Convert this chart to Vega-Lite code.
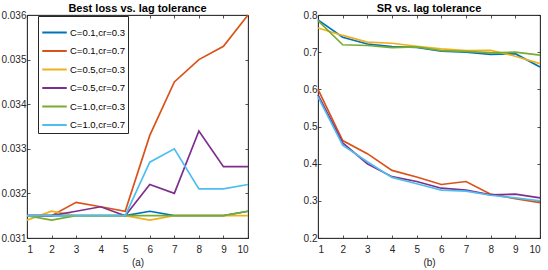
{
  "$schema": "https://vega.github.io/schema/vega-lite/v6.json",
  "padding": {"left": 0, "top": 2, "right": 2, "bottom": 2},
  "background": "white",
  "bounds": "flush",
  "spacing": 70,
  "config": {
    "font": "Liberation Sans",
    "view": {"stroke": "#262626", "strokeWidth": 0.8},
    "axis": {"grid": false, "domainColor": "#262626", "tickColor": "#262626", "labelColor": "#262626", "titleColor": "#262626", "labelFontSize": 10, "titleFontSize": 10, "titleFontWeight": "normal", "tickSize": -3, "labelPadding": 4, "domainWidth": 0.8, "tickWidth": 0.8},
    "axisX": {"labelPadding": 9},
    "title": {"fontSize": 11, "fontWeight": "bold", "color": "#000000", "offset": -4}
  },
  "data": {"values": [
    {"m":"loss","s":"C=0.1,cr=0.3","lag":1,"v":0.0315},{"m":"loss","s":"C=0.1,cr=0.3","lag":2,"v":0.0315},{"m":"loss","s":"C=0.1,cr=0.3","lag":3,"v":0.0315},{"m":"loss","s":"C=0.1,cr=0.3","lag":4,"v":0.0315},{"m":"loss","s":"C=0.1,cr=0.3","lag":5,"v":0.0315},{"m":"loss","s":"C=0.1,cr=0.3","lag":6,"v":0.0316},{"m":"loss","s":"C=0.1,cr=0.3","lag":7,"v":0.0315},{"m":"loss","s":"C=0.1,cr=0.3","lag":8,"v":0.0315},{"m":"loss","s":"C=0.1,cr=0.3","lag":9,"v":0.0315},{"m":"loss","s":"C=0.1,cr=0.3","lag":10,"v":0.0316},
    {"m":"loss","s":"C=0.1,cr=0.7","lag":1,"v":0.0315},{"m":"loss","s":"C=0.1,cr=0.7","lag":2,"v":0.0315},{"m":"loss","s":"C=0.1,cr=0.7","lag":3,"v":0.0318},{"m":"loss","s":"C=0.1,cr=0.7","lag":4,"v":0.0317},{"m":"loss","s":"C=0.1,cr=0.7","lag":5,"v":0.0316},{"m":"loss","s":"C=0.1,cr=0.7","lag":6,"v":0.0333},{"m":"loss","s":"C=0.1,cr=0.7","lag":7,"v":0.0345},{"m":"loss","s":"C=0.1,cr=0.7","lag":8,"v":0.0350},{"m":"loss","s":"C=0.1,cr=0.7","lag":9,"v":0.0353},{"m":"loss","s":"C=0.1,cr=0.7","lag":10,"v":0.0360},
    {"m":"loss","s":"C=0.5,cr=0.3","lag":1,"v":0.0314},{"m":"loss","s":"C=0.5,cr=0.3","lag":2,"v":0.0316},{"m":"loss","s":"C=0.5,cr=0.3","lag":3,"v":0.0315},{"m":"loss","s":"C=0.5,cr=0.3","lag":4,"v":0.0315},{"m":"loss","s":"C=0.5,cr=0.3","lag":5,"v":0.0315},{"m":"loss","s":"C=0.5,cr=0.3","lag":6,"v":0.0314},{"m":"loss","s":"C=0.5,cr=0.3","lag":7,"v":0.0315},{"m":"loss","s":"C=0.5,cr=0.3","lag":8,"v":0.0315},{"m":"loss","s":"C=0.5,cr=0.3","lag":9,"v":0.0315},{"m":"loss","s":"C=0.5,cr=0.3","lag":10,"v":0.0315},
    {"m":"loss","s":"C=0.5,cr=0.7","lag":1,"v":0.0315},{"m":"loss","s":"C=0.5,cr=0.7","lag":2,"v":0.0315},{"m":"loss","s":"C=0.5,cr=0.7","lag":3,"v":0.0316},{"m":"loss","s":"C=0.5,cr=0.7","lag":4,"v":0.0317},{"m":"loss","s":"C=0.5,cr=0.7","lag":5,"v":0.0315},{"m":"loss","s":"C=0.5,cr=0.7","lag":6,"v":0.0322},{"m":"loss","s":"C=0.5,cr=0.7","lag":7,"v":0.0320},{"m":"loss","s":"C=0.5,cr=0.7","lag":8,"v":0.0334},{"m":"loss","s":"C=0.5,cr=0.7","lag":9,"v":0.0326},{"m":"loss","s":"C=0.5,cr=0.7","lag":10,"v":0.0326},
    {"m":"loss","s":"C=1.0,cr=0.3","lag":1,"v":0.0315},{"m":"loss","s":"C=1.0,cr=0.3","lag":2,"v":0.0314},{"m":"loss","s":"C=1.0,cr=0.3","lag":3,"v":0.0315},{"m":"loss","s":"C=1.0,cr=0.3","lag":4,"v":0.0315},{"m":"loss","s":"C=1.0,cr=0.3","lag":5,"v":0.0315},{"m":"loss","s":"C=1.0,cr=0.3","lag":6,"v":0.0315},{"m":"loss","s":"C=1.0,cr=0.3","lag":7,"v":0.0315},{"m":"loss","s":"C=1.0,cr=0.3","lag":8,"v":0.0315},{"m":"loss","s":"C=1.0,cr=0.3","lag":9,"v":0.0315},{"m":"loss","s":"C=1.0,cr=0.3","lag":10,"v":0.0316},
    {"m":"loss","s":"C=1.0,cr=0.7","lag":1,"v":0.0315},{"m":"loss","s":"C=1.0,cr=0.7","lag":2,"v":0.0315},{"m":"loss","s":"C=1.0,cr=0.7","lag":3,"v":0.0315},{"m":"loss","s":"C=1.0,cr=0.7","lag":4,"v":0.0315},{"m":"loss","s":"C=1.0,cr=0.7","lag":5,"v":0.0315},{"m":"loss","s":"C=1.0,cr=0.7","lag":6,"v":0.0327},{"m":"loss","s":"C=1.0,cr=0.7","lag":7,"v":0.0330},{"m":"loss","s":"C=1.0,cr=0.7","lag":8,"v":0.0321},{"m":"loss","s":"C=1.0,cr=0.7","lag":9,"v":0.0321},{"m":"loss","s":"C=1.0,cr=0.7","lag":10,"v":0.0322},
    {"m":"sr","s":"C=0.1,cr=0.3","lag":1,"v":0.787},{"m":"sr","s":"C=0.1,cr=0.3","lag":2,"v":0.740},{"m":"sr","s":"C=0.1,cr=0.3","lag":3,"v":0.722},{"m":"sr","s":"C=0.1,cr=0.3","lag":4,"v":0.715},{"m":"sr","s":"C=0.1,cr=0.3","lag":5,"v":0.713},{"m":"sr","s":"C=0.1,cr=0.3","lag":6,"v":0.703},{"m":"sr","s":"C=0.1,cr=0.3","lag":7,"v":0.700},{"m":"sr","s":"C=0.1,cr=0.3","lag":8,"v":0.694},{"m":"sr","s":"C=0.1,cr=0.3","lag":9,"v":0.696},{"m":"sr","s":"C=0.1,cr=0.3","lag":10,"v":0.660},
    {"m":"sr","s":"C=0.1,cr=0.7","lag":1,"v":0.600},{"m":"sr","s":"C=0.1,cr=0.7","lag":2,"v":0.462},{"m":"sr","s":"C=0.1,cr=0.7","lag":3,"v":0.427},{"m":"sr","s":"C=0.1,cr=0.7","lag":4,"v":0.382},{"m":"sr","s":"C=0.1,cr=0.7","lag":5,"v":0.364},{"m":"sr","s":"C=0.1,cr=0.7","lag":6,"v":0.344},{"m":"sr","s":"C=0.1,cr=0.7","lag":7,"v":0.352},{"m":"sr","s":"C=0.1,cr=0.7","lag":8,"v":0.318},{"m":"sr","s":"C=0.1,cr=0.7","lag":9,"v":0.306},{"m":"sr","s":"C=0.1,cr=0.7","lag":10,"v":0.295},
    {"m":"sr","s":"C=0.5,cr=0.3","lag":1,"v":0.765},{"m":"sr","s":"C=0.5,cr=0.3","lag":2,"v":0.745},{"m":"sr","s":"C=0.5,cr=0.3","lag":3,"v":0.727},{"m":"sr","s":"C=0.5,cr=0.3","lag":4,"v":0.724},{"m":"sr","s":"C=0.5,cr=0.3","lag":5,"v":0.716},{"m":"sr","s":"C=0.5,cr=0.3","lag":6,"v":0.709},{"m":"sr","s":"C=0.5,cr=0.3","lag":7,"v":0.704},{"m":"sr","s":"C=0.5,cr=0.3","lag":8,"v":0.705},{"m":"sr","s":"C=0.5,cr=0.3","lag":9,"v":0.689},{"m":"sr","s":"C=0.5,cr=0.3","lag":10,"v":0.669},
    {"m":"sr","s":"C=0.5,cr=0.7","lag":1,"v":0.585},{"m":"sr","s":"C=0.5,cr=0.7","lag":2,"v":0.456},{"m":"sr","s":"C=0.5,cr=0.7","lag":3,"v":0.400},{"m":"sr","s":"C=0.5,cr=0.7","lag":4,"v":0.365},{"m":"sr","s":"C=0.5,cr=0.7","lag":5,"v":0.352},{"m":"sr","s":"C=0.5,cr=0.7","lag":6,"v":0.334},{"m":"sr","s":"C=0.5,cr=0.7","lag":7,"v":0.329},{"m":"sr","s":"C=0.5,cr=0.7","lag":8,"v":0.316},{"m":"sr","s":"C=0.5,cr=0.7","lag":9,"v":0.318},{"m":"sr","s":"C=0.5,cr=0.7","lag":10,"v":0.308},
    {"m":"sr","s":"C=1.0,cr=0.3","lag":1,"v":0.785},{"m":"sr","s":"C=1.0,cr=0.3","lag":2,"v":0.720},{"m":"sr","s":"C=1.0,cr=0.3","lag":3,"v":0.718},{"m":"sr","s":"C=1.0,cr=0.3","lag":4,"v":0.712},{"m":"sr","s":"C=1.0,cr=0.3","lag":5,"v":0.714},{"m":"sr","s":"C=1.0,cr=0.3","lag":6,"v":0.704},{"m":"sr","s":"C=1.0,cr=0.3","lag":7,"v":0.702},{"m":"sr","s":"C=1.0,cr=0.3","lag":8,"v":0.698},{"m":"sr","s":"C=1.0,cr=0.3","lag":9,"v":0.700},{"m":"sr","s":"C=1.0,cr=0.3","lag":10,"v":0.692},
    {"m":"sr","s":"C=1.0,cr=0.7","lag":1,"v":0.580},{"m":"sr","s":"C=1.0,cr=0.7","lag":2,"v":0.450},{"m":"sr","s":"C=1.0,cr=0.7","lag":3,"v":0.405},{"m":"sr","s":"C=1.0,cr=0.7","lag":4,"v":0.363},{"m":"sr","s":"C=1.0,cr=0.7","lag":5,"v":0.346},{"m":"sr","s":"C=1.0,cr=0.7","lag":6,"v":0.329},{"m":"sr","s":"C=1.0,cr=0.7","lag":7,"v":0.326},{"m":"sr","s":"C=1.0,cr=0.7","lag":8,"v":0.315},{"m":"sr","s":"C=1.0,cr=0.7","lag":9,"v":0.308},{"m":"sr","s":"C=1.0,cr=0.7","lag":10,"v":0.300}
  ]},
  "hconcat": [
    {
      "width": 221, "height": 223,
      "title": {"text": "Best loss vs. lag tolerance"},
      "transform": [{"filter": "datum.m == 'loss'"}],
      "layer": [
        {
          "mark": {"type": "line", "strokeWidth": 1.7},
          "encoding": {
            "x": {"field": "lag", "type": "quantitative", "scale": {"domain": [1, 10], "nice": false}, "axis": {"values": [1,2,3,4,5,6,7,8,9,10], "title": "(a)", "titlePadding": 3}},
            "y": {"field": "v", "type": "quantitative", "scale": {"domain": [0.031, 0.036], "nice": false, "zero": false}, "axis": {"values": [0.031,0.032,0.033,0.034,0.035,0.036], "format": ".3f", "title": null}},
            "color": {"field": "s", "type": "nominal", "scale": {"domain": ["C=0.1,cr=0.3","C=0.1,cr=0.7","C=0.5,cr=0.3","C=0.5,cr=0.7","C=1.0,cr=0.3","C=1.0,cr=0.7"], "range": ["#0072BD","#D95319","#EDB120","#7E2F8E","#77AC30","#4DBEEE"]},
              "legend": {"title": null, "orient": "none", "legendX": 11, "legendY": 1, "symbolType": "stroke", "symbolSize": 600, "symbolStrokeWidth": 2, "labelFontSize": 9.5, "labelColor": "#000000", "rowPadding": 0.5, "strokeColor": "#262626", "fillColor": "white", "padding": 3, "labelOffset": 2}}
          }
        },
        {
          "mark": {"type": "line", "opacity": 0},
          "encoding": {
            "x": {"field": "lag", "type": "quantitative", "axis": {"orient": "top", "values": [1,2,3,4,5,6,7,8,9,10], "labels": false, "title": null}},
            "y": {"field": "v", "type": "quantitative", "axis": {"orient": "right", "values": [0.031,0.032,0.033,0.034,0.035,0.036], "labels": false, "title": null}}
          }
        }
      ],
      "resolve": {"axis": {"x": "independent", "y": "independent"}}
    },
    {
      "width": 222, "height": 223,
      "title": {"text": "SR vs. lag tolerance"},
      "transform": [{"filter": "datum.m == 'sr'"}],
      "layer": [
        {
          "mark": {"type": "line", "strokeWidth": 1.7},
          "encoding": {
            "x": {"field": "lag", "type": "quantitative", "scale": {"domain": [1, 10], "nice": false}, "axis": {"values": [1,2,3,4,5,6,7,8,9,10], "title": "(b)", "titlePadding": 3}},
            "y": {"field": "v", "type": "quantitative", "scale": {"domain": [0.2, 0.8], "nice": false, "zero": false}, "axis": {"values": [0.2,0.3,0.4,0.5,0.6,0.7,0.8], "format": ".1f", "title": null}},
            "color": {"field": "s", "type": "nominal", "legend": null}
          }
        },
        {
          "mark": {"type": "line", "opacity": 0},
          "encoding": {
            "x": {"field": "lag", "type": "quantitative", "axis": {"orient": "top", "values": [1,2,3,4,5,6,7,8,9,10], "labels": false, "title": null}},
            "y": {"field": "v", "type": "quantitative", "axis": {"orient": "right", "values": [0.2,0.3,0.4,0.5,0.6,0.7,0.8], "labels": false, "title": null}}
          }
        }
      ],
      "resolve": {"axis": {"x": "independent", "y": "independent"}}
    }
  ]
}
